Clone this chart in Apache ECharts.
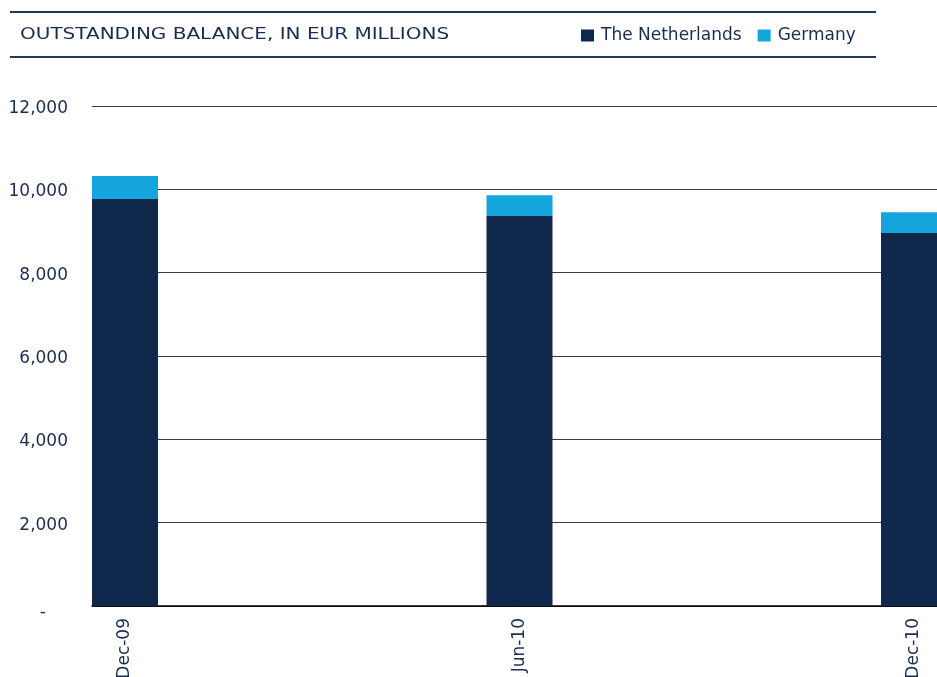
<!DOCTYPE html>
<html><head><meta charset="utf-8">
<script src="https://cdn.jsdelivr.net/npm/echarts@6/dist/echarts.min.js"></script>
<style>html,body{margin:0;padding:0;background:#fff}#c{width:937px;height:677px}</style>
</head><body><div id="c"></div>
<script>
const categories = ['Dec-09', 'Jun-10', 'Dec-10'];
const netherlands = [9770, 9360, 8950];
const germany = [550, 500, 500];
const yTicks = [0, 2000, 4000, 6000, 8000, 10000, 12000];

const NAVY = '#0e274b';
const BLUE = '#14a5dc';
const TXT = '#1b2d4f';
const FONT = 'DejaVu Sans';

const chart = echarts.init(document.getElementById('c'));
chart.setOption({
  animation: false,
  backgroundColor: '#fff',
  textStyle: { fontFamily: FONT, color: TXT },
  graphic: [
    { type: 'line', shape: { x1: 10, y1: 12, x2: 876, y2: 12 }, style: { stroke: '#23395d', lineWidth: 2 } },
    { type: 'line', shape: { x1: 10, y1: 57, x2: 876, y2: 57 }, style: { stroke: '#23395d', lineWidth: 2 } },
    { type: 'text', x: 20, y: 35, scaleX: 1.25, originX: 0, originY: 0,
      style: { text: 'OUTSTANDING BALANCE, IN EUR MILLIONS', fontFamily: FONT, fontSize: 16, fill: TXT,
               textVerticalAlign: 'middle', verticalAlign: 'middle' } }
  ],
  legend: {
    left: 576, top: 22, itemWidth: 13, itemHeight: 12, itemGap: 16,
    icon: 'rect',
    textStyle: { fontFamily: FONT, fontSize: 17, color: TXT, padding: [0, 0, 0, 2] },
    data: ['The Netherlands', 'Germany']
  },
  grid: [
    { left: 92, right: 0, top: 106, bottom: 71, containLabel: false, outerBoundsMode: 'none' },
    { left: 125, right: 23, top: 106, bottom: 71, containLabel: false, outerBoundsMode: 'none' }
  ],
  xAxis: [
    { gridIndex: 0, type: 'value', min: 0, max: 1, axisLine: { show: true, lineStyle: { color: '#000', width: 1.5 } },
      axisTick: { show: false }, axisLabel: { show: false }, splitLine: { show: false } },
    { gridIndex: 1, type: 'category', data: categories, boundaryGap: false,
      axisLine: { show: false }, axisTick: { show: false },
      axisLabel: { rotate: 90, margin: 12, fontFamily: FONT, fontSize: 17, color: TXT } }
  ],
  yAxis: [
    { gridIndex: 0, type: 'value', min: yTicks[0], max: yTicks[yTicks.length - 1], interval: 2000,
      axisLine: { show: false }, axisTick: { show: false },
      splitLine: { show: true, lineStyle: { color: '#3a3a3a', width: 1 } },
      axisLabel: { margin: 24, fontFamily: FONT, fontSize: 17, color: TXT, padding: [5, 0, 0, 0],
        formatter: v => v === 0 ? '{d|-}' : v.toLocaleString('en-US'),
        rich: { d: { padding: [8, 22, 0, 0], fontSize: 17, fontFamily: FONT, color: TXT } } } },
    { gridIndex: 1, type: 'value', min: yTicks[0], max: yTicks[yTicks.length - 1], show: false }
  ],
  series: [
    { name: 'The Netherlands', type: 'bar', stack: 'a', xAxisIndex: 1, yAxisIndex: 1, data: netherlands,
      barWidth: 66, clip: false, itemStyle: { color: NAVY } },
    { name: 'Germany', type: 'bar', stack: 'a', xAxisIndex: 1, yAxisIndex: 1, data: germany,
      barWidth: 66, clip: false, itemStyle: { color: BLUE } }
  ]
});
</script></body></html>
